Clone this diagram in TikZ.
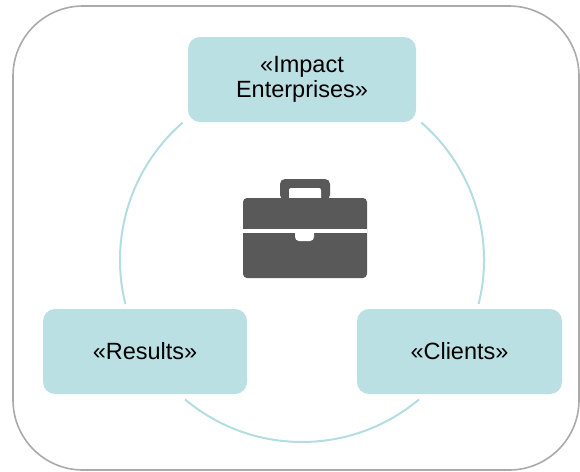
\documentclass[tikz,border=0pt]{standalone}
\usepackage{fontspec}
\setmainfont{Liberation Sans}
\definecolor{boxfill}{RGB}{187,224,227}
\definecolor{ringcol}{RGB}{180,221,226}
\definecolor{framecol}{RGB}{170,170,170}
\definecolor{casecol}{RGB}{89,89,89}
\begin{document}
\begin{tikzpicture}[x=1pt,y=-1pt,
  box/.style={fill=boxfill, rounded corners=12pt, inner sep=0pt, align=center,
    minimum height=85pt, font=\fontsize{23.5}{24.5}\selectfont},
  ring/.style={draw=ringcol, line width=2pt}]
\useasboundingbox (0,0) rectangle (580,471);
\draw[framecol, line width=1.6pt, rounded corners=70pt] (13,6) rectangle (579,470);
% ring arcs
\coordinate (c) at (302,260);
\draw[ring] ([shift={(c)}] -131:182) arc[start angle=-131, end angle=-194, radius=182];
\draw[ring] ([shift={(c)}] -230:182) arc[start angle=-230, end angle=-310, radius=182];
\draw[ring] ([shift={(c)}] -346:182) arc[start angle=-346, end angle=-409, radius=182];
% boxes
\node[box, minimum width=228pt] (impact) at (302,79.5) {«Impact\\Enterprises»};
\node[box, minimum width=204pt] (results) at (145,351.5) {«Results»};
\node[box, minimum width=205pt] (clients) at (459.5,351.5) {«Clients»};
% briefcase
\fill[casecol, rounded corners=5pt] (280,200) -- (280,179) -- (330,179) -- (330,200) -- cycle;
\fill[white, rounded corners=2pt] (289,200) -- (289,188) -- (321,188) -- (321,200) -- cycle;
\fill[casecol, rounded corners=4pt] (243,198) rectangle (367,278);
\fill[white] (243,229) rectangle (367,233);
\fill[white] (295,229) [rounded corners=4pt] -- (295,241) -- (314,241) [sharp corners] -- (314,229) -- cycle;
\end{tikzpicture}
\end{document}
